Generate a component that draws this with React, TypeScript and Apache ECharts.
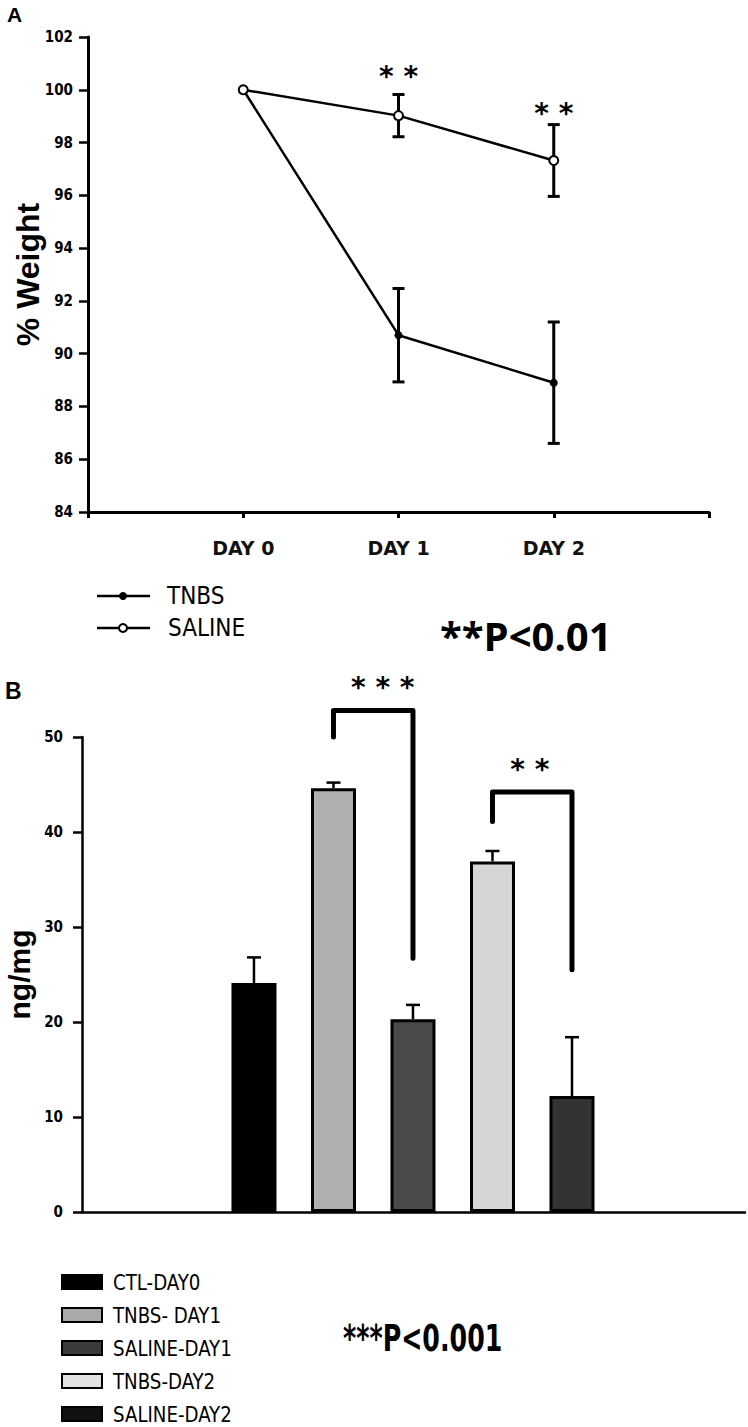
import React, { useEffect, useRef } from "react";
import * as echarts from "echarts";

// ---- Panel A data ----
const days = ["DAY 0", "DAY 1", "DAY 2"];
const tnbsMean = [100, 90.7, 88.9];
const tnbsErr = [0, 1.77, 2.3];
const salineMean = [100, 99.02, 97.32];
const salineErr = [0, 0.8, 1.36];
const weightMin = 84;
const weightMax = 102;
const weightStep = 2;
const starsA = [
  { day: 1, y: 100.5, text: "* *" },
  { day: 2, y: 99.1, text: "* *" },
];

// ---- Panel B data ----
const groups = ["CTL-DAY0", "TNBS- DAY1", "SALINE-DAY1", "TNBS-DAY2", "SALINE-DAY2"];
const groupValues = [24.1, 44.6, 20.3, 36.9, 12.2];
const groupErrs = [2.7, 0.6, 1.5, 1.1, 6.2];
const ngMin = 0;
const ngMax = 50;
const ngStep = 10;
const bracket1 = [[2, 50.0], [2, 52.8], [3, 52.8], [3, 26.7]];
const bracket2 = [[4, 41.1], [4, 44.2], [5, 44.2], [5, 25.5]];
const starsB = [
  { x: 2.62, y: 55.2, text: "* * *" },
  { x: 4.47, y: 46.6, text: "* *" },
];

const barColors = ["#000000", "#b0b0b0", "#4a4a4a", "#d6d6d6", "#333333"];
const legendColors = ["#000000", "#aaaaaa", "#3a3a3a", "#e2e2e2", "#111111"];

const NARROW = '"Liberation Sans Narrow", "Arial Narrow", "DejaVu Sans Condensed", sans-serif';
const SANS = '"Liberation Sans", Arial, sans-serif';

export default function App() {
  const ref = useRef<HTMLDivElement>(null);

  useEffect(() => {
    document.body.style.margin = "0";
    if (!ref.current) return;
    const chart = echarts.init(ref.current, null, { renderer: "svg" });

    const cats = ["", ...days, ""];

    const errRenderA = (params: any, api: any) => {
      const x = api.value(0);
      const m = api.value(1);
      const e = api.value(2);
      if (!e) return null;
      const top = api.coord([x, m + e]);
      const bot = api.coord([x, m - e]);
      const w = 6;
      const st = { stroke: "#000", lineWidth: 3 };
      return {
        type: "group",
        children: [
          { type: "line", shape: { x1: top[0], y1: top[1], x2: bot[0], y2: bot[1] }, style: st },
          { type: "line", shape: { x1: top[0] - w, y1: top[1], x2: top[0] + w, y2: top[1] }, style: st },
          { type: "line", shape: { x1: bot[0] - w, y1: bot[1], x2: bot[0] + w, y2: bot[1] }, style: st },
        ],
      };
    };

    const errRenderB = (params: any, api: any) => {
      const x = api.value(0);
      const m = api.value(1);
      const e = api.value(2);
      const top = api.coord([x, m + e]);
      const base = api.coord([x, m]);
      const w = 7;
      const st = { stroke: "#000", lineWidth: 2.5 };
      return {
        type: "group",
        children: [
          { type: "line", shape: { x1: top[0], y1: top[1], x2: base[0], y2: base[1] }, style: st },
          { type: "line", shape: { x1: top[0] - w, y1: top[1], x2: top[0] + w, y2: top[1] }, style: st },
        ],
      };
    };

    const starRender = (texts: string[]) => (params: any, api: any) => {
      const p = api.coord([api.value(0), api.value(1)]);
      return {
        type: "text",
        x: p[0],
        y: p[1],
        style: {
          text: texts[params.dataIndex],
          fontSize: 28,
          fontWeight: "bold",
          fontFamily: "DejaVu Sans",
          fill: "#000",
          align: "center",
          verticalAlign: "middle",
          textAlign: "center",
          textVerticalAlign: "middle",
        },
      };
    };

    const legendB: any[] = [];
    groups.forEach((g, i) => {
      const cy = 1282 + i * 33;
      legendB.push({
        type: "rect",
        shape: { x: 62, y: cy - 7, width: 40, height: 14 },
        style: { fill: legendColors[i], stroke: "#000", lineWidth: 2 },
      });
      legendB.push({
        type: "text",
        x: 113,
        y: cy,
        scaleX: 0.92,
        style: {
          text: g,
          fontSize: 22,
          fontFamily: NARROW,
          fill: "#000",
          verticalAlign: "middle",
          textVerticalAlign: "middle",
        },
      });
    });

    const option: any = {
      animation: false,
      backgroundColor: "#fff",
      grid: [
        { left: 88, top: 37, width: 621, height: 475, containLabel: false, outerBoundsMode: "none" },
        { left: 82, top: 737, width: 663, height: 475, containLabel: false, outerBoundsMode: "none" },
      ],
      xAxis: [
        {
          type: "category",
          gridIndex: 0,
          data: cats,
          boundaryGap: false,
          axisLine: { lineStyle: { color: "#000", width: 3 } },
          axisTick: { show: true, length: 6, lineStyle: { color: "#000", width: 3 } },
          axisLabel: {
            color: "#111",
            fontSize: 19,
            fontWeight: "bold",
            fontFamily: "DejaVu Sans",
            margin: 26,
            interval: 0,
          },
          splitLine: { show: false },
        },
        {
          type: "value",
          gridIndex: 1,
          min: -1.163,
          max: 7.176,
          axisLine: { show: true, onZero: false, lineStyle: { color: "#000", width: 2.5 } },
          axisTick: { show: false },
          axisLabel: { show: false },
          splitLine: { show: false },
        },
      ],
      yAxis: [
        {
          type: "value",
          gridIndex: 0,
          min: weightMin,
          max: weightMax,
          interval: weightStep,
          axisLine: { show: true, onZero: false, lineStyle: { color: "#000", width: 3 } },
          axisTick: { show: true, length: 9, lineStyle: { color: "#000", width: 2.5 } },
          axisLabel: { color: "#000", fontSize: 15, fontWeight: "bold", fontFamily: NARROW, margin: 15 },
          splitLine: { show: false },
          name: "% Weight",
          nameLocation: "middle",
          nameGap: 44,
          nameMoveOverlap: false,
          nameTextStyle: { color: "#000", fontSize: 32, fontWeight: "bold", fontFamily: SANS },
        },
        {
          type: "value",
          gridIndex: 1,
          min: ngMin,
          max: ngMax,
          interval: ngStep,
          axisLine: { show: true, onZero: false, lineStyle: { color: "#000", width: 2.5 } },
          axisTick: { show: true, length: 9, lineStyle: { color: "#000", width: 2.5 } },
          axisLabel: { color: "#000", fontSize: 15, fontWeight: "bold", fontFamily: NARROW, margin: 19 },
          splitLine: { show: false },
          name: "ng/mg",
          nameLocation: "middle",
          nameGap: 48,
          nameMoveOverlap: false,
          nameTextStyle: { color: "#000", fontSize: 30, fontWeight: "bold", fontFamily: SANS },
        },
      ],
      series: [
        {
          type: "custom",
          xAxisIndex: 0,
          yAxisIndex: 0,
          renderItem: errRenderA,
          z: 1,
          data: [
            ...tnbsMean.map((m, i) => [i + 1, m, tnbsErr[i]]),
            ...salineMean.map((m, i) => [i + 1, m, salineErr[i]]),
          ],
        },
        {
          type: "line",
          name: "TNBS",
          xAxisIndex: 0,
          yAxisIndex: 0,
          z: 3,
          data: tnbsMean.map((m, i) => [i + 1, m]),
          symbol: "circle",
          symbolSize: 8,
          itemStyle: { color: "#000" },
          lineStyle: { color: "#000", width: 2.5 },
        },
        {
          type: "line",
          name: "SALINE",
          xAxisIndex: 0,
          yAxisIndex: 0,
          z: 4,
          data: salineMean.map((m, i) => [i + 1, m]),
          symbol: "circle",
          symbolSize: 9,
          itemStyle: { color: "#fff", borderColor: "#000", borderWidth: 2 },
          lineStyle: { color: "#000", width: 2.5 },
        },
        {
          type: "custom",
          xAxisIndex: 0,
          yAxisIndex: 0,
          renderItem: starRender(starsA.map((s) => s.text)),
          z: 5,
          data: starsA.map((s) => [s.day + 1, s.y]),
        },
        {
          type: "bar",
          xAxisIndex: 1,
          yAxisIndex: 1,
          barWidth: 45,
          z: 2,
          data: groupValues.map((v, i) => ({
            value: [i + 1, v],
            itemStyle: { color: barColors[i], borderColor: "#000", borderWidth: 3 },
          })),
        },
        {
          type: "custom",
          xAxisIndex: 1,
          yAxisIndex: 1,
          renderItem: errRenderB,
          z: 3,
          data: groupValues.map((v, i) => [i + 1, v, groupErrs[i]]),
        },
        {
          type: "line",
          xAxisIndex: 1,
          yAxisIndex: 1,
          clip: false,
          symbol: "none",
          z: 4,
          data: bracket1,
          lineStyle: { color: "#000", width: 5, join: "round", cap: "round" },
        },
        {
          type: "line",
          xAxisIndex: 1,
          yAxisIndex: 1,
          clip: false,
          symbol: "none",
          z: 4,
          data: bracket2,
          lineStyle: { color: "#000", width: 5, join: "round", cap: "round" },
        },
        {
          type: "custom",
          xAxisIndex: 1,
          yAxisIndex: 1,
          renderItem: starRender(starsB.map((s) => s.text)),
          z: 5,
          data: starsB.map((s) => [s.x, s.y]),
        },
      ],
      graphic: [
        {
          type: "text",
          x: 7,
          y: 14,
          style: { text: "A", fontSize: 21, fontWeight: "bold", fontFamily: SANS, fill: "#000", verticalAlign: "middle", textVerticalAlign: "middle" },
        },
        {
          type: "text",
          x: 5,
          y: 691,
          style: { text: "B", fontSize: 23, fontWeight: "bold", fontFamily: SANS, fill: "#000", verticalAlign: "middle", textVerticalAlign: "middle" },
        },
        // Legend A
        { type: "line", shape: { x1: 97, y1: 596, x2: 150, y2: 596 }, style: { stroke: "#000", lineWidth: 2.5 } },
        { type: "circle", shape: { cx: 123, cy: 596, r: 4 }, style: { fill: "#000" } },
        { type: "line", shape: { x1: 97, y1: 628, x2: 150, y2: 628 }, style: { stroke: "#000", lineWidth: 2.5 } },
        { type: "circle", shape: { cx: 123, cy: 628, r: 4 }, style: { fill: "#fff", stroke: "#000", lineWidth: 2 } },
        {
          type: "text",
          x: 167,
          y: 596,
          style: { text: "TNBS", fontSize: 24, fontFamily: NARROW, fill: "#000", verticalAlign: "middle", textVerticalAlign: "middle" },
        },
        {
          type: "text",
          x: 168,
          y: 628,
          style: { text: "SALINE", fontSize: 24, fontFamily: NARROW, fill: "#000", verticalAlign: "middle", textVerticalAlign: "middle" },
        },
        {
          type: "text",
          x: 440,
          y: 635,
          style: { text: "**P<0.01", fontSize: 40, fontWeight: "bold", fontFamily: '"Open Sans", sans-serif', fill: "#000", verticalAlign: "middle", textVerticalAlign: "middle" },
        },
        ...legendB,
        {
          type: "text",
          x: 343,
          y: 1338,
          scaleX: 0.74,
          style: { text: "***P<0.001", fontSize: 38, fontWeight: "bold", fontFamily: NARROW, fill: "#000", verticalAlign: "middle", textVerticalAlign: "middle" },
        },
      ],
    };

    chart.setOption(option);
    return () => chart.dispose();
  }, []);

  return <div ref={ref} style={{ width: 748, height: 1427 }} />;
}
